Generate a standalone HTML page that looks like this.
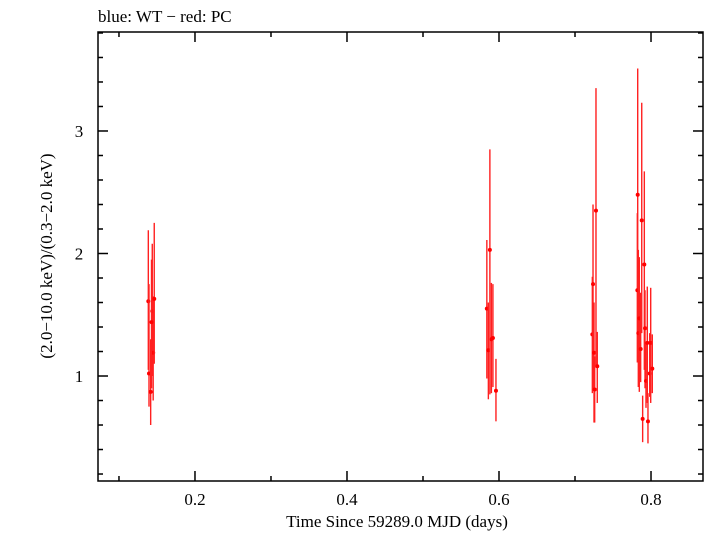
<!DOCTYPE html>
<html><head><meta charset="utf-8"><style>
html,body{margin:0;padding:0;background:#fff;}
svg text{font-family:"Liberation Serif",serif;fill:#000;}
</style></head><body>
<svg id="chart" width="705" height="532" viewBox="0 0 705 532" xmlns="http://www.w3.org/2000/svg">
<text x="98" y="22" font-size="17">blue: WT − red: PC</text>
<rect x="98" y="32" width="605" height="449" fill="none" stroke="#000" stroke-width="1.5"/>
<g id="axes"></g>
<g id="series"></g>
<text x="397" y="527" font-size="17" text-anchor="middle">Time Since 59289.0 MJD (days)</text>
<text transform="translate(52,256) rotate(-90)" font-size="17" text-anchor="middle">(2.0−10.0 keV)/(0.3−2.0 keV)</text>
</svg>
<script>
const xTicks = [0.2, 0.4, 0.6, 0.8];
const xTickLabels = ["0.2", "0.4", "0.6", "0.8"];
const yTicks = [1, 2, 3];
const yTickLabels = ["1", "2", "3"];
const times = [0.1386,0.1395,0.1417,0.1438,0.1450,0.1464,0.1428,
 0.584,0.586,0.588,0.590,0.592,0.596,
 0.7228,0.7237,0.7250,0.7259,0.7276,0.7293,
 0.7825,0.7820,0.7833,0.7846,0.7864,0.7878,0.7890,0.7912,0.7921,0.7934,0.7951,0.7960,0.7983,0.7996,0.8017];
const ratios = [1.61,1.02,0.87,1.53,1.19,1.63,1.44,
 1.55,1.21,2.03,1.30,1.31,0.88,
 1.34,1.75,1.19,0.89,2.35,1.08,
 2.48,1.70,1.35,1.47,1.22,2.27,0.65,1.91,1.39,0.96,1.27,0.63,1.02,1.27,1.06];
const ratioLow = [1.05,0.75,0.60,1.00,0.80,1.10,0.90,
 0.98,0.81,0.85,0.86,0.91,0.63,
 0.86,0.89,0.62,0.62,1.08,0.78,
 1.44,1.11,0.91,0.87,0.95,1.35,0.46,1.05,0.90,0.74,0.78,0.45,0.83,0.78,0.86];
const ratioHigh = [2.19,1.75,1.30,2.08,1.65,2.25,1.95,
 2.11,1.60,2.85,1.76,1.75,1.14,
 1.81,2.40,1.60,1.16,3.35,1.36,
 3.51,2.33,2.03,1.97,1.68,3.23,0.84,2.67,1.70,1.27,1.73,0.86,1.35,1.72,1.34];

const X0=98, X1=703, Y0=481, Y1=32;
const xMin=0.0724, xMax=0.8684, yMin=0.143, yMax=3.808;
const sx = v => X0 + (v - xMin) / (xMax - xMin) * (X1 - X0);
const sy = v => Y0 - (v - yMin) / (yMax - yMin) * (Y0 - Y1);
const NS="http://www.w3.org/2000/svg";
const axes=document.getElementById('axes');
const series=document.getElementById('series');
function line(p,x1,y1,x2,y2,c,w){const l=document.createElementNS(NS,'line');l.setAttribute('x1',x1);l.setAttribute('y1',y1);l.setAttribute('x2',x2);l.setAttribute('y2',y2);l.setAttribute('stroke',c);l.setAttribute('stroke-width',w);p.appendChild(l);return l;}
for(let k=1;k<=8;k++){const v=k/10;const x=sx(v);const maj=(k%2===0);const len=maj?10:5;
 const t1=line(axes,x,Y0,x,Y0-len,'#000',1.5);
 
 
 const t2=line(axes,x,Y1,x,Y1+len,'#000',1.5);
 
 }
xTicks.forEach((v,i)=>{const t=document.createElementNS(NS,'text');t.setAttribute('x',sx(v));t.setAttribute('y',505);t.setAttribute('font-size','17');t.setAttribute('text-anchor','middle');t.textContent=xTickLabels[i];
 
 
 axes.appendChild(t);});
for(let k=1;k<=19;k++){const v=k/5;const y=sy(v);if(y<Y1||y>Y0)continue;const maj=(k%5===0);const len=maj?10:5;
 const t1=line(axes,X0,y,X0+len,y,'#000',1.5);
 
 
 const t2=line(axes,X1,y,X1-len,y,'#000',1.5);
 
 }
yTicks.forEach((v,i)=>{const t=document.createElementNS(NS,'text');t.setAttribute('x',79);t.setAttribute('y',sy(v)+6);t.setAttribute('font-size','17');t.setAttribute('text-anchor','middle');t.textContent=yTickLabels[i];
 
 
 axes.appendChild(t);});
times.forEach((tv,i)=>{const x=sx(tv);
 const e=line(series,x,sy(ratioLow[i]),x,sy(ratioHigh[i]),'#ff2020',1.4);
 
 
 const c=document.createElementNS(NS,'circle');c.setAttribute('cx',x);c.setAttribute('cy',sy(ratios[i]));c.setAttribute('r',2);c.setAttribute('fill','#ff0000');
 
 
 series.appendChild(c);});
</script>
</body></html>
